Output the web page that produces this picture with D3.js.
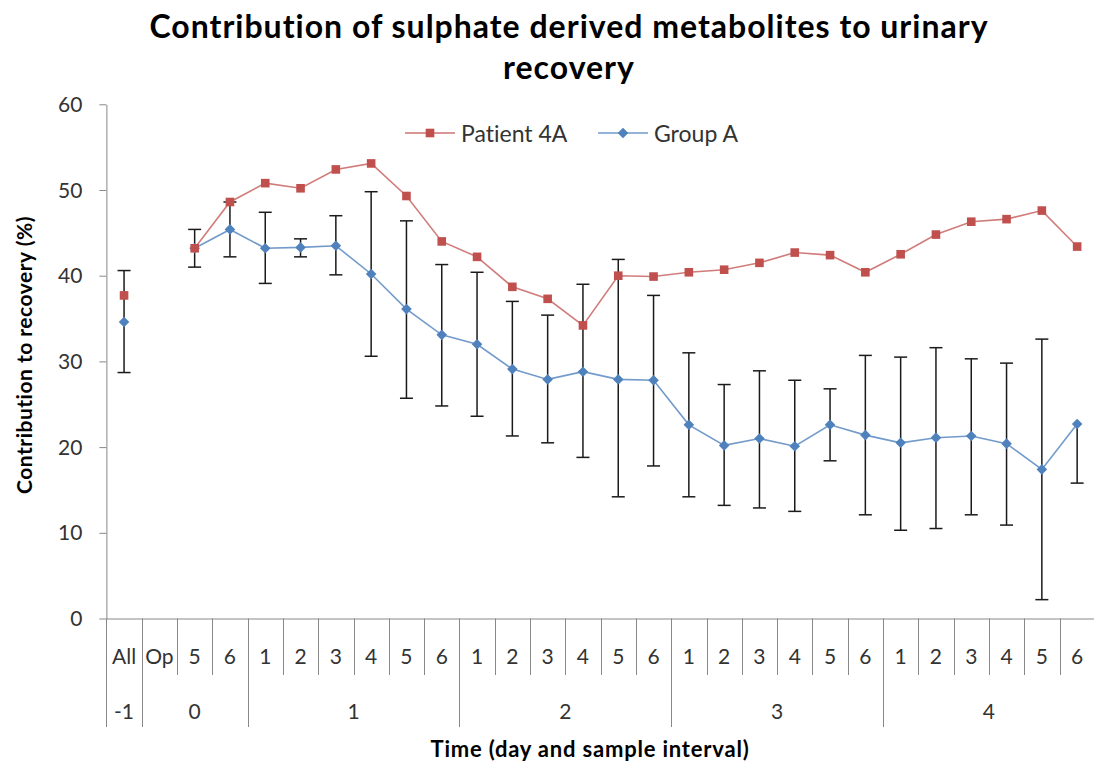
<!DOCTYPE html>
<html>
<head>
<meta charset="utf-8">
<script src="https://cdn.jsdelivr.net/npm/d3@7"></script>
<style>
  html, body { margin: 0; padding: 0; background: #fff; }
  svg { display: block; font-family: Lato, "Open Sans", sans-serif; font-variant-ligatures: none; }
</style>
</head>
<body>
<svg id="chart" width="1094" height="769"></svg>
<script>
// Sample interval labels (first axis row) and the day each belongs to (second row)
const sampleLabels = ["All", "Op", "5", "6",
  "1", "2", "3", "4", "5", "6",
  "1", "2", "3", "4", "5", "6",
  "1", "2", "3", "4", "5", "6",
  "1", "2", "3", "4", "5", "6"];
const dayLabels = ["-1", "0", "0", "0",
  "1", "1", "1", "1", "1", "1",
  "2", "2", "2", "2", "2", "2",
  "3", "3", "3", "3", "3", "3",
  "4", "4", "4", "4", "4", "4"];

// Contribution to recovery (%)
const patient4A = [37.7, null, 43.2, 48.6,
  50.8, 50.2, 52.4, 53.1, 49.3, 44.0,
  42.2, 38.7, 37.3, 34.2, 40.0, 39.9,
  40.4, 40.7, 41.5, 42.7, 42.4, 40.4,
  42.5, 44.8, 46.3, 46.6, 47.6, 43.4];
const groupA = [34.6, null, 43.2, 45.4,
  43.2, 43.3, 43.5, 40.2, 36.1, 33.1,
  32.0, 29.1, 27.9, 28.8, 27.9, 27.8,
  22.6, 20.2, 21.0, 20.1, 22.6, 21.4,
  20.5, 21.1, 21.3, 20.4, 17.4, 22.7];
// Group A error bar extents (below / above the mean)
const groupAErrMinus = [5.9, null, 2.2, 3.2,
  4.1, 1.1, 3.4, 9.6, 10.4, 8.3,
  8.4, 7.8, 7.4, 10.0, 13.7, 10.0,
  8.4, 7.0, 8.1, 7.6, 4.2, 9.3,
  10.2, 10.6, 9.2, 9.5, 15.2, 6.9];
const groupAErrPlus = [6.0, null, 2.2, 3.2,
  4.2, 1.0, 3.5, 9.6, 10.3, 8.2,
  8.4, 7.9, 7.5, 10.2, 14.0, 9.9,
  8.4, 7.1, 7.9, 7.7, 4.2, 9.3,
  10.0, 10.5, 9.0, 9.4, 15.2, 0];

const yTicks = [0, 10, 20, 30, 40, 50, 60];
const seriesNames = ["Patient 4A", "Group A"];
const titleLines = ["Contribution of sulphate derived metabolites to urinary", "recovery"];
const yTitle = "Contribution  to recovery (%)";
const xTitle = "Time (day and sample interval)";

const RED = "#C0504D", BLUE = "#4F81BD", AXIS = "#888888", TXT = "#333333";

const svg = d3.select("#chart");
const keys = sampleLabels.map((s, i) => i + ":" + dayLabels[i] + ":" + s);

const plot = { left: 106.4, right: 1094.8, top: 104.3, bottom: 618.5 };
const x = d3.scaleBand().domain(keys).range([plot.left, plot.right]).padding(0);
const y = d3.scaleLinear().domain([0, 60]).range([plot.bottom, plot.top]);
const cx = i => x(keys[i]) + x.bandwidth() / 2;

// Title
svg.append("text")
  .attr("x", 569).attr("y", 38)
  .attr("text-anchor", "middle")
  .style("font-weight", "bold").style("font-size", "32px").style("letter-spacing", "1px")
  .style("fill", "#000")
  .selectAll("tspan").data(titleLines).join("tspan")
  .attr("x", 569).attr("dy", (d, i) => i === 0 ? 0 : 41)
  .text(d => d);

// Y axis
const yAxis = svg.append("g")
  .attr("transform", `translate(${plot.left},0)`)
  .call(d3.axisLeft(y).tickValues(yTicks).tickSize(7).tickSizeOuter(0).tickPadding(17));
yAxis.select(".domain").attr("stroke", AXIS);
yAxis.selectAll(".tick line").attr("stroke", AXIS);
yAxis.selectAll(".tick text").style("font-size", "21px").style("fill", TXT)
  .style("font-family", "Lato, sans-serif").attr("dy", "0.34em");

// X axis: line + first-row labels
const xAxis = svg.append("g")
  .attr("transform", `translate(0,${plot.bottom})`)
  .call(d3.axisBottom(x).tickSize(0).tickSizeOuter(0).tickPadding(31)
    .tickFormat((d, i) => sampleLabels[i]));
xAxis.select(".domain").attr("stroke", AXIS);
xAxis.selectAll(".tick text").style("font-size", "21px").style("fill", TXT)
  .style("font-family", "Lato, sans-serif");

// Category separators: short within a day, long where a new day begins
const sepG = svg.append("g").attr("stroke", AXIS).attr("stroke-width", 1);
keys.forEach((k, i) => {
  const newDay = i === 0 || dayLabels[i] !== dayLabels[i - 1];
  const xx = Math.round(x(k)) + 0.5;
  sepG.append("line")
    .attr("x1", xx).attr("x2", xx)
    .attr("y1", plot.bottom).attr("y2", newDay ? 727 : 675);
});
sepG.append("line")
  .attr("x1", plot.right).attr("x2", plot.right)
  .attr("y1", plot.bottom).attr("y2", 727);

// Second-row day labels centred across their groups
const dayGroups = [];
dayLabels.forEach((d, i) => {
  const last = dayGroups[dayGroups.length - 1];
  if (last && last.label === d) last.end = i;
  else dayGroups.push({ label: d, start: i, end: i });
});
svg.append("g").selectAll("text").data(dayGroups).join("text")
  .attr("x", g => (x(keys[g.start]) + x(keys[g.end]) + x.bandwidth()) / 2)
  .attr("y", 719)
  .attr("text-anchor", "middle")
  .style("font-size", "21px").style("fill", TXT)
  .text(g => g.label);

// Axis titles
svg.append("text")
  .attr("transform", "translate(32,355) rotate(-90)")
  .attr("text-anchor", "middle")
  .style("font-weight", "bold").style("font-size", "21px").style("letter-spacing", "0.5px")
  .style("fill", "#000")
  .text(yTitle);
svg.append("text")
  .attr("x", 590).attr("y", 757)
  .attr("text-anchor", "middle")
  .style("font-weight", "bold").style("font-size", "22px").style("letter-spacing", "0.8px")
  .style("fill", "#000")
  .text(xTitle);

// Group A error bars
const errG = svg.append("g").attr("stroke", "#1a1a1a").attr("stroke-width", 1.5);
groupA.forEach((v, i) => {
  if (v == null) return;
  const lo = v - groupAErrMinus[i], hi = v + groupAErrPlus[i];
  const xx = cx(i);
  errG.append("line").attr("x1", xx).attr("x2", xx).attr("y1", y(lo)).attr("y2", y(hi));
  if (groupAErrMinus[i] > 0)
    errG.append("line").attr("x1", xx - 6.5).attr("x2", xx + 6.5).attr("y1", y(lo)).attr("y2", y(lo));
  if (groupAErrPlus[i] > 0)
    errG.append("line").attr("x1", xx - 6.5).attr("x2", xx + 6.5).attr("y1", y(hi)).attr("y2", y(hi));
});

// Series lines
const line = d3.line()
  .defined(d => d.v != null)
  .x(d => cx(d.i))
  .y(d => y(d.v));
const redPts = patient4A.map((v, i) => ({ v, i }));
const bluePts = groupA.map((v, i) => ({ v, i }));

svg.append("path").datum(bluePts)
  .attr("d", line).attr("fill", "none")
  .attr("stroke", BLUE).attr("stroke-width", 1.6).attr("stroke-opacity", 0.8);
svg.append("path").datum(redPts)
  .attr("d", line).attr("fill", "none")
  .attr("stroke", RED).attr("stroke-width", 1.6).attr("stroke-opacity", 0.75);

// Markers
const diamond = "M0,-5.3L5.3,0L0,5.3L-5.3,0Z";
svg.append("g").selectAll("path").data(bluePts.filter(d => d.v != null)).join("path")
  .attr("d", diamond)
  .attr("transform", d => `translate(${cx(d.i)},${y(d.v)})`)
  .attr("fill", BLUE);
svg.append("g").selectAll("rect").data(redPts.filter(d => d.v != null)).join("rect")
  .attr("x", d => cx(d.i) - 4.3).attr("y", d => y(d.v) - 4.3)
  .attr("width", 8.6).attr("height", 8.6)
  .attr("fill", RED);

// Legend
const legend = svg.append("g");
const legendItems = [
  { name: seriesNames[0], color: RED, x0: 405, shape: "square" },
  { name: seriesNames[1], color: BLUE, x0: 598, shape: "diamond" }
];
legendItems.forEach(it => {
  const g = legend.append("g").attr("transform", `translate(${it.x0},133)`);
  g.append("line").attr("x1", 0).attr("x2", 50).attr("y1", 0).attr("y2", 0)
    .attr("stroke", it.color).attr("stroke-width", 1.6).attr("stroke-opacity", 0.8);
  if (it.shape === "square")
    g.append("rect").attr("x", 25 - 4.3).attr("y", -4.3).attr("width", 8.6).attr("height", 8.6).attr("fill", it.color);
  else
    g.append("path").attr("d", diamond).attr("transform", "translate(25,0)").attr("fill", it.color);
  g.append("text").attr("x", 56).attr("y", 8.5)
    .style("font-size", "23px").style("fill", TXT).text(it.name);
});
</script>
</body>
</html>
